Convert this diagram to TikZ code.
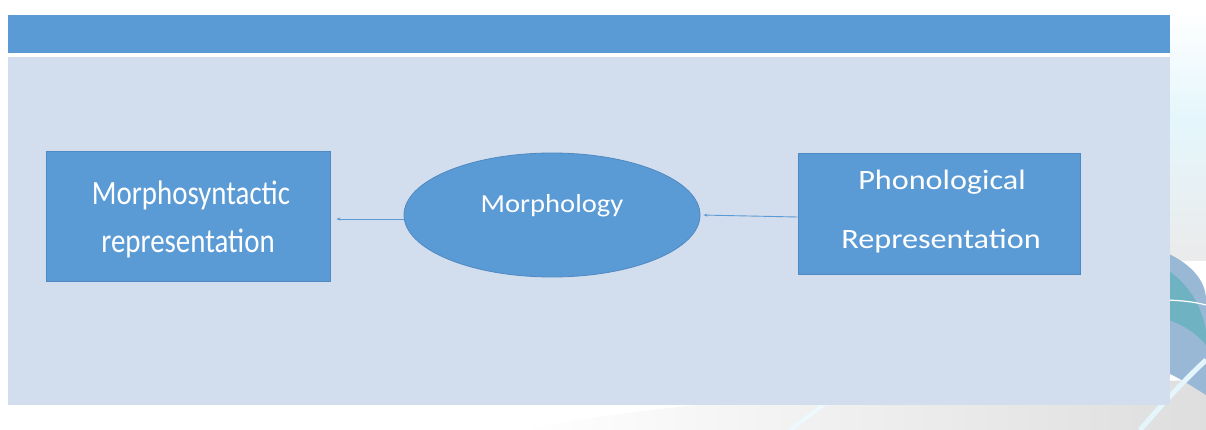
\documentclass[tikz,border=0pt]{standalone}
\usepackage{fontspec}
\setmainfont{Carlito}
\usetikzlibrary{shapes.geometric,arrows.meta}
\definecolor{barblue}{HTML}{5B9BD5}
\definecolor{panel}{HTML}{D2DDEE}
\definecolor{edgeblue}{HTML}{4F89C2}
\definecolor{teal1}{HTML}{6FB3C3}
\definecolor{teal2}{HTML}{7EA6CC}
\definecolor{paleblue}{HTML}{E4F6FC}
\tikzset{
  block/.style={draw=edgeblue, line width=0.8pt, fill=barblue, align=center},
  oval/.style={ellipse, draw=edgeblue, line width=0.8pt, fill=barblue,
    minimum width=296pt, minimum height=124pt, inner sep=0pt},
  label text/.style={text=white, anchor=base, inner sep=0pt},
  link/.style={draw=barblue, line width=0.9pt, -{Stealth[length=4pt,width=3pt]}},
}
\begin{document}
\begin{tikzpicture}[x=1pt,y=-1pt]
  \useasboundingbox (0,0) rectangle (1206,430);
  % backdrop decoration at lower right
  \begin{scope}
    \clip (0,0) rectangle (1206,430);
    \shade[left color=white, right color=black!13] (520,430) .. controls (700,395) and (950,385) .. (1206,380) -- (1206,430) -- cycle;
    \shade[top color=white, bottom color=paleblue] (1170,10) rectangle (1206,120);
    \shade[top color=paleblue, bottom color=black!8] (1170,120) rectangle (1206,260);
    \fill[teal2!80] (1160,250) .. controls (1190,262) and (1206,280) .. (1206,300) -- (1206,395) .. controls (1190,385) and (1175,375) .. (1160,370) -- cycle;
    \fill[teal1] (1160,265) .. controls (1185,280) and (1200,300) .. (1206,330) -- (1206,345) .. controls (1195,332) and (1180,322) .. (1160,318) -- cycle;
    \draw[white, line width=1.2pt] (1160,300) .. controls (1180,300) and (1195,302) .. (1206,305);
    \draw[paleblue, line width=5pt] (1140,430) .. controls (1170,395) and (1190,375) .. (1206,360);
    \draw[paleblue!70, line width=4pt] (790,430) -- (830,400);
  \end{scope}
  % header bar and panel
  \fill[barblue] (8,15) rectangle (1170,53);
  \fill[panel] (8,57) rectangle (1170,405);
  % nodes
  \node[block, minimum width=284pt, minimum height=130pt] (ms) at (188,216) {};
  \node[label text, font=\fontsize{34}{40}\selectfont, xscale=0.85] (ms1) at (191,205) {Morphosyntactic};
  \node[label text, font=\fontsize{34}{40}\selectfont, xscale=0.85] (ms2) at (188,252) {representation};
  \node[oval] (mo) at (552,215) {};
  \node[label text, font=\fontsize{26}{30}\selectfont, xscale=1.1] (motext) at (552,213) {Morphology};
  \node[block, minimum width=282pt, minimum height=121pt] (ph) at (939,214) {};
  \node[label text, font=\fontsize{28}{32}\selectfont, xscale=1.15] (ph1) at (942,190) {Phonological};
  \node[label text, font=\fontsize{28}{32}\selectfont, xscale=1.15] (ph2) at (941,248) {Representation};
  % connectors
  \draw[link, shorten >=6pt] ([yshift=-4pt]mo.west) -- ([yshift=-3pt]ms.east);
  \draw[link, shorten >=3pt] ([yshift=-3pt]ph.west) -- (mo.east);
\end{tikzpicture}
\end{document}
